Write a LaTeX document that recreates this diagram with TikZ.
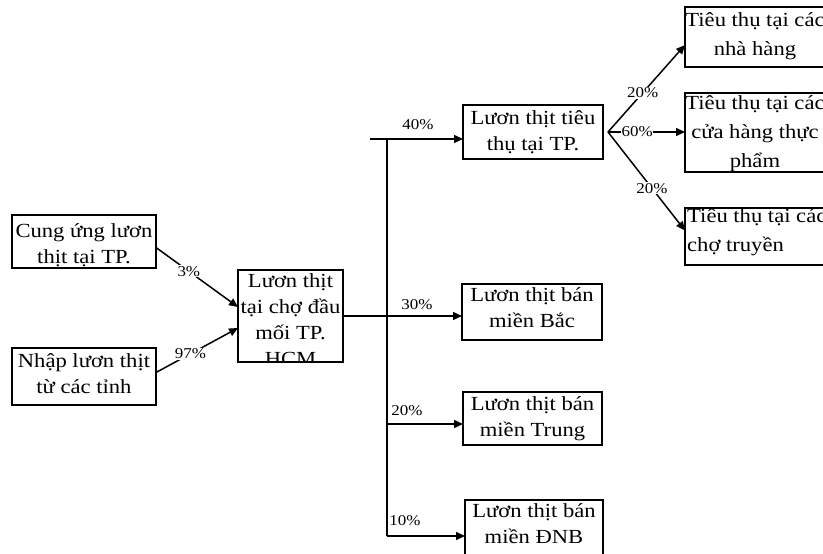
\documentclass[tikz,border=0pt]{standalone}
\usepackage{fontspec}
\setmainfont{Liberation Serif}[FakeStretch=1.13]
\usetikzlibrary{arrows.meta}
\begin{document}
\begin{tikzpicture}[x=1pt,y=-1pt,
  box/.style={draw, line width=1.5pt, inner sep=0pt, outer sep=0pt},
  txt/.style={font=\fontsize{20}{26}\selectfont, align=center, inner sep=0pt, anchor=north},
  rtxt/.style={font=\fontsize{20}{29}\selectfont, align=center, inner sep=0pt, anchor=north},
  pct/.style={font=\fontsize{15}{17}\selectfont, fill=white, inner sep=1pt},
  ln/.style={line width=1.5pt},
  arr/.style={line width=1.5pt, -{Triangle[length=9pt,width=8pt]}}]
\useasboundingbox (0,0) rectangle (823,554);
\clip (0,0) rectangle (823,554);
\fill[white] (0,0) rectangle (823,554);
% boxes
\node[box, minimum width=144, minimum height=53] (cung) at (84,241.5) {};
\node[box, minimum width=144, minimum height=57] (nhap) at (84,376.5) {};
\node[box, minimum width=105, minimum height=92] (cho) at (290.5,316) {};
\node[box, minimum width=140, minimum height=54] (tp) at (533,132) {};
\node[box, minimum width=140, minimum height=56] (bac) at (532,312) {};
\node[box, minimum width=139, minimum height=53] (trung) at (532.5,418.5) {};
\node[box, minimum width=138, minimum height=60] (dnb) at (534,530) {};
\node[box, minimum width=154, minimum height=60] (nha) at (762,37) {};
\node[box, minimum width=154, minimum height=79] (cuahang) at (762,132.5) {};
\node[box, minimum width=154, minimum height=57] (chotr) at (762,236.5) {};
% texts
\node[txt] (tcung) at (84,223) {Cung ứng lươn\\thịt tại TP.};
\node[txt] (tnhap) at (84,353) {Nhập lươn thịt\\từ các tỉnh};
\begin{scope}
\clip (cho.north west) rectangle (cho.south east);
\node[txt] (tcho) at (290.5,273) {Lươn thịt\\tại chợ đầu\\mối TP.\\HCM};
\end{scope}
\node[txt] (ttp) at (533,110) {Lươn thịt tiêu\\thụ tại TP.};
\node[txt] (tbac) at (532,287) {Lươn thịt bán\\miền Bắc};
\node[txt] (ttrung) at (532.5,396) {Lươn thịt bán\\miền Trung};
\node[txt] (tdnb) at (534,503) {Lươn thịt bán\\miền ĐNB};
\node[rtxt] (tnha) at (755,12) {Tiêu thụ tại các\\nhà hàng};
\node[rtxt] (tcuahang) at (755,95) {Tiêu thụ tại các\\cửa hàng thực\\phẩm};
\node[rtxt, align=left, anchor=north west] (tchotr) at (687,208) {Tiêu thụ tại các\\chợ truyền};
% left inputs
\draw[arr] ([yshift=-6pt]cung.east) -- ([yshift=9pt]cho.west)
  node[pct, pos=0.4] (p3) {3\%};
\draw[arr] ([yshift=4pt]nhap.east) -- ([yshift=-12pt]cho.west)
  node[pct, pos=0.42] (p97) {97\%};
% trunk
\coordinate (s) at (370,139);
\coordinate (ttop) at (387,139);
\coordinate (tbot) at (387,536);
\coordinate (j3) at (387,424);
\draw[ln] (ttop) -- (tbot);
\draw[arr] (s) -- (s -| tp.west);
\draw[arr] (cho.east) -- (cho.east -| bac.west);
\draw[arr] (j3) -- (j3 -| trung.west);
\draw[arr] (tbot) -- (tbot -| dnb.west);
\node[pct] (p40) at (418,125) {40\%};
\node[pct] (p30) at (417,305) {30\%};
\node[pct] (p20a) at (407,411) {20\%};
\node[pct] (p10) at (405,521) {10\%};
% fork
\coordinate (f) at ([xshift=5pt]tp.east);
\draw[arr] (f) -- ([yshift=-8pt]nha.west) node[pct, pos=0.45] (p20b) {20\%};
\draw[arr] (f) -- (f -| cuahang.west) node[pct, pos=0.38, inner sep=0.5pt] (p60) {60\%};
\draw[arr] (f) -- ([yshift=6pt]chotr.west) node[pct, pos=0.57] (p20c) {20\%};
\end{tikzpicture}
\end{document}
